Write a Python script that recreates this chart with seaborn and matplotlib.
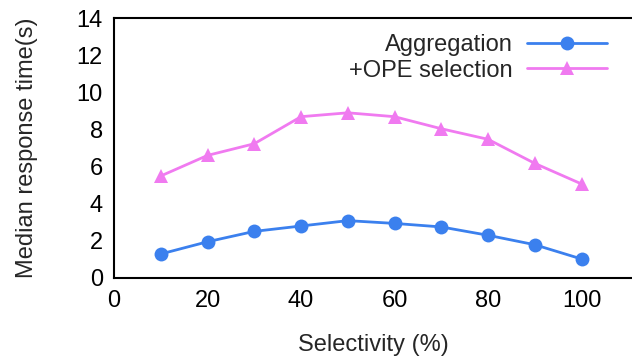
import matplotlib
matplotlib.use("Agg")
import matplotlib.pyplot as plt
import seaborn as sns
import pandas as pd

selectivity = [10, 20, 30, 40, 50, 60, 70, 80, 90, 100]
aggregation = [1.28, 1.94, 2.50, 2.79, 3.08, 2.93, 2.74, 2.29, 1.78, 1.01]
ope_selection = [5.49, 6.60, 7.23, 8.69, 8.90, 8.69, 8.04, 7.47, 6.17, 5.06]
series_names = ["Aggregation", "+OPE selection"]
colors = ["#3b80ee", "#f07af0"]

df = pd.DataFrame({
    "x": selectivity * 2,
    "y": aggregation + ope_selection,
    "series": [series_names[0]] * len(selectivity) + [series_names[1]] * len(selectivity),
})

sns.set_style("white")
plt.rcParams["font.family"] = ["Liberation Sans", "DejaVu Sans"]

fig = plt.figure(figsize=(6.32, 3.6), dpi=100)
ax = fig.add_axes([114 / 632, (360 - 277.7) / 360, (632 - 114) / 632, (277.7 - 18.3) / 360])

sns.lineplot(data=df, x="x", y="y", hue="series", style="series",
             markers={series_names[0]: "o", series_names[1]: "^"},
             dashes=False, palette=colors, linewidth=2.0, markersize=10,
             markeredgewidth=0, ax=ax)

fs = 17
ax.set_xlim(0, 110.8)
ax.set_ylim(0, 14)
ax.set_xticks([0, 20, 40, 60, 80, 100])
ax.set_yticks([0, 2, 4, 6, 8, 10, 12, 14])
ax.tick_params(direction="in", length=8.4, width=1.2, labelsize=fs, color="black",
               labelcolor="black", pad=8)
ax.tick_params(axis="x", pad=9)
for s in ["left", "bottom", "top"]:
    ax.spines[s].set_color("black")
    ax.spines[s].set_linewidth(1.5)
ax.spines["right"].set_visible(False)
ax.set_xlabel("Selectivity (%)", fontsize=fs, labelpad=16)
ax.set_ylabel("Median response time(s)", fontsize=fs, labelpad=28)

handles, labels = ax.get_legend_handles_labels()
leg = ax.legend(handles, labels, loc="upper right", bbox_to_anchor=(0.984, 1.003),
                frameon=False, markerfirst=False, fontsize=fs, handlelength=3.4,
                labelspacing=0.15, handletextpad=0.6, borderpad=0.2)
for t in leg.get_texts():
    t.set_ha("right")

fig.savefig("out.png", dpi=100)
